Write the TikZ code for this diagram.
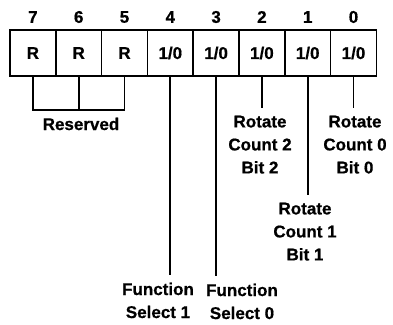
\documentclass[tikz,border=0pt]{standalone}
\usepackage{fontspec}
\setmainfont{Liberation Sans}
\newfontfamily\heavyfont{Liberation Sans}[UprightFont=*-Bold,FakeBold=0.7]
\begin{document}
\begin{tikzpicture}[x=1pt,y=1pt,
  every node/.style={font=\fontsize{17}{23}\selectfont\heavyfont},
  cell/.style={draw,line width=1.7pt,minimum width=45.8pt,minimum height=46pt,inner sep=0pt,anchor=center},
  bitnum/.style={inner sep=0pt},
  lbl/.style={align=center,inner xsep=0pt,inner ysep=7.5pt,anchor=north},
  wire/.style={line width=1.7pt}]
\useasboundingbox (0,0) rectangle (393,-324);
\foreach \b/\t [count=\k from 0] in {7/R,6/R,5/R,4/1\slash 0,3/1\slash 0,2/1\slash 0,1/1\slash 0,0/1\slash 0}{
  \node[cell] (c\b) at ({10+45.8*(\k+0.5)},-53) {\t};
  \node[bitnum] (n\b) at ({10+45.8*(\k+0.5)},-17) {\b};
}
% Reserved bracket
\node[lbl] (res) at (81,-110) {Reserved};
\draw[wire] (c7.south) -- (c7.south |- res.north) -- (c5.south |- res.north) -- (c5.south);
\draw[wire] (c6.south) -- (c6.south |- res.north);
% labels
\node[lbl] (t2) at (260,-108) {Rotate\\Count 2\\Bit 2};
\node[lbl] (t0) at (355,-108) {Rotate\\Count 0\\Bit 0};
\node[lbl] (t1) at (305,-195) {Rotate\\Count 1\\Bit 1};
\node[lbl] (t4) at (158,-275) {Function\\Select 1};
\node[lbl] (t3) at (242,-276) {Function\\Select 0};
\draw[wire] (c2.south) -- (c2.south |- t2.north);
\draw[wire] (c0.south) -- (c0.south |- t0.north);
\draw[wire] (c1.south) -- (c1.south |- t1.north);
\draw[wire] (c4.south) -- (c4.south |- t4.north);
\draw[wire] (c3.south) -- (c3.south |- t3.north);
\end{tikzpicture}
\end{document}
